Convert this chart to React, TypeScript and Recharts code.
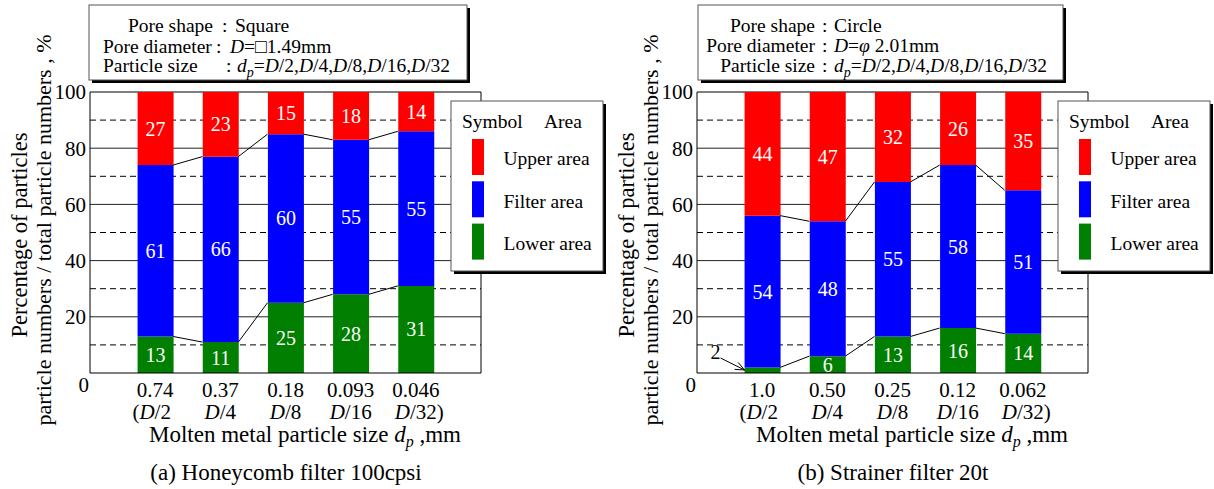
import React from 'react';
import { ComposedChart, Bar, Line, XAxis, YAxis, CartesianGrid, LabelList } from 'recharts';

// particle sizes (mm) under each bar, and the D/n fractions below them
const SIZES_A = ['0.74', '0.37', '0.18', '0.093', '0.046'];
const SIZES_B = ['1.0', '0.50', '0.25', '0.12', '0.062'];
const DIVISORS = ['2', '4', '8', '16', '32'];
const POSITIONS = [1, 2, 3, 4, 5];

// (a) Honeycomb filter 100cpsi
const UPPER_A = [27, 23, 15, 18, 14];
const FILTER_A = [61, 66, 60, 55, 55];
const LOWER_A = [13, 11, 25, 28, 31];

// (b) Strainer filter 20t
const UPPER_B = [44, 47, 32, 26, 35];
const FILTER_B = [54, 48, 55, 58, 51];
const LOWER_B = [2, 6, 13, 16, 14];

const Y_TICKS = [0, 20, 40, 60, 80, 100];
const GRID_SOLID = [20, 40, 60, 80];
const GRID_DASHED = [10, 30, 50, 70, 90];

const SERIES = [
  { key: 'upper', name: 'Upper area', color: '#ff0000' },
  { key: 'filter', name: 'Filter area', color: '#0000ff' },
  { key: 'lower', name: 'Lower area', color: '#007f00' },
];
const STACK_ORDER = ['lower', 'filter', 'upper'];

const FONT = '"Liberation Serif", "Times New Roman", serif';
const CHART_W = 607;
const CHART_H = 489;
const Y_AXIS_W = 40;
const MARGIN = { top: 92, right: 126, bottom: 66, left: 50 };
const PLOT_W = CHART_W - MARGIN.left - Y_AXIS_W - MARGIN.right;
const BAR_SIZE = 36;
const HALF_BAR = BAR_SIZE / 2 / (PLOT_W / 6);

// connector segments from the right edge of one bar to the left edge of the next
function linkData(levels: number[]) {
  const out: { pos: number; v: number | null }[] = [];
  for (let i = 0; i < levels.length - 1; i++) {
    out.push({ pos: POSITIONS[i] + HALF_BAR, v: levels[i] });
    out.push({ pos: POSITIONS[i + 1] - HALF_BAR, v: levels[i + 1] });
    out.push({ pos: POSITIONS[i] + 0.5, v: null });
  }
  return out;
}

const YTick = (props: any) => {
  const { x, y, payload } = props;
  const zero = payload.value === 0;
  return (
    <text x={x + (zero ? 3 : 0)} y={y + (zero ? 12 : 0)} dy="0.35em" textAnchor="end"
      fontSize={21} fontFamily={FONT} fill="#000">
      {payload.value}
    </text>
  );
};

const makeXTick = (sizes: string[]) => (props: any) => {
  const { x, y, payload } = props;
  const i = POSITIONS.indexOf(payload.value);
  if (i < 0) return <g />;
  const first = i === 0;
  const last = i === POSITIONS.length - 1;
  const shift = first ? -3.5 : last ? 3.5 : 0;
  return (
    <g fontSize={21} fontFamily={FONT} fill="#000">
      <text x={x} y={y + 24} textAnchor="middle">{sizes[i]}</text>
      <text x={x + shift} y={y + 46} textAnchor="middle">
        {first ? '(' : ''}
        <tspan fontStyle="italic">D</tspan>
        {'/' + DIVISORS[i]}
        {last ? ')' : ''}
      </text>
    </g>
  );
};

const makeSegLabel = (values: number[]) => (props: any) => {
  const vb = props.viewBox ?? props;
  const { x, y, width, height } = vb;
  const v = typeof props.index === 'number' ? values[props.index] : props.value;
  if (v < 4) {
    // too thin for an inside label: callout with an arrow
    const bx = x;
    const by = y + height;
    const sx = bx - 24;
    const sy = by - 15;
    const tx = bx;
    const ty = by - 3;
    const ang = Math.atan2(ty - sy, tx - sx);
    const a1 = ang + Math.PI - 0.4;
    const a2 = ang + Math.PI + 0.4;
    return (
      <g>
        <text x={bx - 29} y={by - 21} dy="0.35em" textAnchor="middle" fontSize={20}
          fontFamily={FONT} fill="#000">{v}</text>
        <line x1={sx} y1={sy} x2={tx} y2={ty} stroke="#000" strokeWidth={1} />
        <line x1={tx} y1={ty} x2={tx + 10 * Math.cos(a1)} y2={ty + 10 * Math.sin(a1)} stroke="#000" />
        <line x1={tx} y1={ty} x2={tx + 10 * Math.cos(a2)} y2={ty + 10 * Math.sin(a2)} stroke="#000" />
      </g>
    );
  }
  return (
    <text x={x + width / 2} y={y + height / 2} dy="0.35em" textAnchor="middle" fontSize={20}
      fontFamily={FONT} fill="#fff">{v}</text>
  );
};

function Panel({ sizes, upper, filter, lower }: { sizes: string[]; upper: number[]; filter: number[]; lower: number[] }) {
  const rows = POSITIONS.map((pos, i) => ({ pos, lower: lower[i], filter: filter[i], upper: upper[i] }));
  const values: Record<string, number[]> = { lower, filter, upper };
  const lowLinks = linkData(lower);
  const midLinks = linkData(lower.map((v, i) => v + filter[i]));
  return (
    <ComposedChart width={CHART_W} height={CHART_H} data={rows} margin={MARGIN}>
      <CartesianGrid vertical={false} horizontalValues={GRID_SOLID} stroke="#222" />
      <CartesianGrid vertical={false} horizontalValues={GRID_DASHED} stroke="#000" strokeDasharray="6 4" />
      <CartesianGrid horizontalValues={[100]} verticalValues={[6]} stroke="#000" />
      <XAxis dataKey="pos" type="number" domain={[0, 6]} ticks={POSITIONS} interval={0}
        tickLine={false} tickSize={0} tickMargin={0} height={50}
        axisLine={{ stroke: '#000' }} tick={makeXTick(sizes)} />
      <XAxis xAxisId="links" dataKey="pos" type="number" domain={[0, 6]} hide />
      <YAxis type="number" domain={[0, 100]} ticks={Y_TICKS} interval={0} allowDataOverflow
        width={Y_AXIS_W} tickLine={false} tickSize={0} tickMargin={4}
        axisLine={{ stroke: '#000' }} tick={<YTick />} />
      {STACK_ORDER.map((k) => {
        const s = SERIES.find((d) => d.key === k)!;
        return (
          <Bar key={k} dataKey={k} name={s.name} stackId="s" fill={s.color} barSize={BAR_SIZE}
            isAnimationActive={false}>
            <LabelList content={makeSegLabel(values[k])} />
          </Bar>
        );
      })}
      <Line xAxisId="links" data={lowLinks} dataKey="v" stroke="#000" strokeWidth={1} dot={false}
        activeDot={false} connectNulls={false} isAnimationActive={false} legendType="none" />
      <Line xAxisId="links" data={midLinks} dataKey="v" stroke="#000" strokeWidth={1} dot={false}
        activeDot={false} connectNulls={false} isAnimationActive={false} legendType="none" />
    </ComposedChart>
  );
}

function ShadowBox({ x, y, w, h }: { x: number; y: number; w: number; h: number }) {
  return (
    <g>
      <rect x={x + 3} y={y + 3} width={w} height={h} fill="#000" />
      <rect x={x} y={y} width={w} height={h} fill="#fff" stroke="#555" strokeWidth={1} />
    </g>
  );
}

function LegendBox({ ox }: { ox: number }) {
  const bx = ox + 451;
  return (
    <g fontSize={19.5} fontFamily={FONT} fill="#000">
      <ShadowBox x={bx} y={101} w={152} h={170} />
      <text x={bx + 11} y={128}>Symbol</text>
      <text x={bx + 93} y={128}>Area</text>
      {SERIES.map((s, i) => (
        <g key={s.key}>
          <rect x={bx + 21} y={139 + i * 42.3} width={12} height={36} fill={s.color} />
          <text x={bx + 52.5} y={165 + i * 42.5}>{s.name}</text>
        </g>
      ))}
    </g>
  );
}

function AxisTitles({ ox, caption }: { ox: number; caption: string }) {
  return (
    <g fontFamily={FONT} fill="#000">
      <text transform={`translate(${ox + 19},235) rotate(-90)`} textAnchor="middle" dy="0.35em" fontSize={22.5}>
        Percentage of particles
      </text>
      <text transform={`translate(${ox + 43},230) rotate(-90)`} textAnchor="middle" dy="0.35em" fontSize={22}>
        particle numbers / total particle numbers , %
      </text>
      <text x={ox + 305} y={442} textAnchor="middle" fontSize={23}>
        Molten metal particle size <tspan fontStyle="italic">d</tspan>
        <tspan fontStyle="italic" fontSize={16} dy={5}>p</tspan>
        <tspan dy={-5}> ,mm</tspan>
      </text>
      <text x={ox + 286} y={480} textAnchor="middle" fontSize={23}>{caption}</text>
    </g>
  );
}

const SizeValue = () => (
  <>
    <tspan fontStyle="italic">d</tspan>
    <tspan fontStyle="italic" fontSize={14} dy={5}>p</tspan>
    <tspan dy={-5}>=</tspan>
    {DIVISORS.map((d, i) => (
      <tspan key={d}>
        <tspan fontStyle="italic">D</tspan>
        {'/' + d + (i < DIVISORS.length - 1 ? ',' : '')}
      </tspan>
    ))}
  </>
);

function InfoA() {
  return (
    <g fontSize={19.5} fontFamily={FONT} fill="#000">
      <ShadowBox x={89} y={5} w={378} h={75} />
      <text x={128} y={32}>Pore shape</text>
      <text x={222} y={32}>:</text>
      <text x={235} y={32}>Square</text>
      <text x={103} y={52.5}>Pore diameter</text>
      <text x={216} y={52.5}>:</text>
      <text x={230} y={52.5}><tspan fontStyle="italic">D</tspan>=□1.49mm</text>
      <text x={103} y={72}>Particle size</text>
      <text x={226} y={72}>:</text>
      <text x={237} y={72}><SizeValue /></text>
    </g>
  );
}

function InfoB() {
  return (
    <g fontSize={19.5} fontFamily={FONT} fill="#000">
      <ShadowBox x={698} y={5} w={365} h={75} />
      {['Pore shape', 'Pore diameter', 'Particle size'].map((t, i) => (
        <g key={t}>
          <text x={815} y={32 + i * 20} textAnchor="end">{t}</text>
          <text x={822} y={32 + i * 20}>:</text>
        </g>
      ))}
      <text x={834} y={32}>Circle</text>
      <text x={834} y={52}><tspan fontStyle="italic">D</tspan>=<tspan fontStyle="italic">φ</tspan> 2.01mm</text>
      <text x={834} y={72}><SizeValue /></text>
    </g>
  );
}

export default function App() {
  return (
    <div style={{ position: 'absolute', left: 0, top: 0, width: 1214, height: 489, background: '#fff', fontFamily: FONT }}>
      <div style={{ position: 'absolute', left: 0, top: 0 }}>
        <Panel sizes={SIZES_A} upper={UPPER_A} filter={FILTER_A} lower={LOWER_A} />
      </div>
      <div style={{ position: 'absolute', left: 607, top: 0 }}>
        <Panel sizes={SIZES_B} upper={UPPER_B} filter={FILTER_B} lower={LOWER_B} />
      </div>
      <svg width={1214} height={489} style={{ position: 'absolute', left: 0, top: 0, pointerEvents: 'none' }}>
        <InfoA />
        <InfoB />
        <LegendBox ox={0} />
        <LegendBox ox={607} />
        <AxisTitles ox={0} caption="(a) Honeycomb filter 100cpsi" />
        <AxisTitles ox={607} caption="(b) Strainer filter 20t" />
      </svg>
    </div>
  );
}
